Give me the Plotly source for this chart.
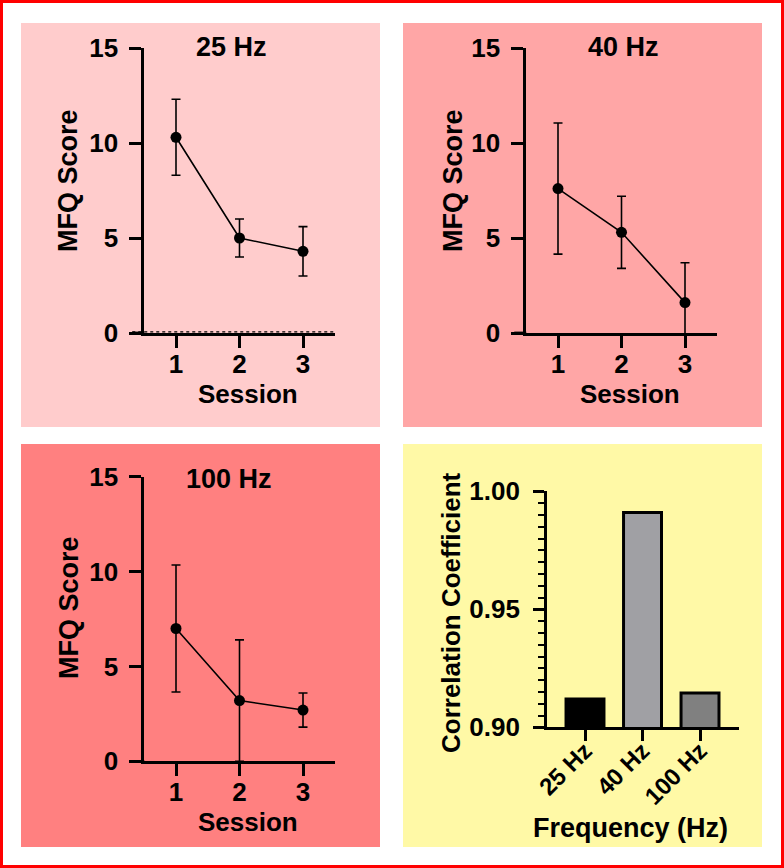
import plotly.graph_objects as go

# ---------------- data ----------------
sessions = [1, 2, 3]
session_ticks = ["1", "2", "3"]

mfq_25 = [10.3, 5.0, 4.3]
err_25 = [2.0, 1.0, 1.3]

mfq_40 = [7.6, 5.3, 1.6]
err_40 = [3.45, 1.9, 2.1]

mfq_100 = [7.0, 3.2, 2.7]
err_100 = [3.35, 3.2, 0.9]

freq_labels = ["25 Hz", "40 Hz", "100 Hz"]
freq_pos = [0, 1, 2]
corr_values = [0.912, 0.991, 0.9145]
bar_colors = ["#000000", "#A0A0A4", "#808080"]

mfq_ticks = [0, 5, 10, 15]
corr_ticks = [0.90, 0.95, 1.00]

# ---------------- figure ----------------
W, H = 784, 868
FONT = "Liberation Sans, Arial, sans-serif"
FS = 26

def px_x(p):
    return p / W

def px_y(p):
    return 1 - p / H

fig = go.Figure()

panels = [
    ("x", "y", mfq_25, err_25),
    ("x2", "y2", mfq_40, err_40),
    ("x3", "y3", mfq_100, err_100),
]

for xa, ya, vals, errs in panels:
    fig.add_trace(go.Scatter(
        x=sessions, y=vals, xaxis=xa, yaxis=ya,
        mode="lines+markers",
        line=dict(color="black", width=1.6),
        marker=dict(color="black", size=11),
        error_y=dict(type="data", array=errs, visible=True,
                     color="black", thickness=1.6, width=4.5),
        showlegend=False,
    ))

fig.add_trace(go.Bar(
    x=freq_pos, y=corr_values, xaxis="x4", yaxis="y4",
    width=0.66,
    marker=dict(color=bar_colors, line=dict(color="black", width=3)),
    showlegend=False,
))

line_axis = dict(showline=True, linecolor="black", linewidth=2.8,
                 ticks="outside", ticklen=12, tickwidth=2.8, tickcolor="black",
                 showgrid=False, zeroline=False, automargin=False,
                 tickfont=dict(family=FONT, size=FS, color="black", weight="bold"))

d1x = [px_x(144.25), px_x(334.75)]
d2x = [px_x(526.25), px_x(716.75)]
dTop = [px_y(333), px_y(48)]
dBot = [px_y(761.3), px_y(476.7)]
d4x = [px_x(547), px_x(739)]
d4y = [px_y(727.3), px_y(491.3)]

for i, (dx, dy) in enumerate([(d1x, dTop), (d2x, dTop), (d1x, dBot)], start=1):
    sfx = "" if i == 1 else str(i)
    fig.layout["xaxis" + sfx] = dict(
        line_axis, domain=dx, range=[0.5, 3.5], anchor="y" + sfx,
        tickvals=sessions, ticktext=session_ticks, ticklabelstandoff=-6)
    fig.layout["yaxis" + sfx] = dict(
        line_axis, domain=dy, range=[0, 15], anchor="x" + sfx,
        tickvals=mfq_ticks, ticklabelstandoff=6)

fig.layout["xaxis4"] = dict(
    line_axis, domain=d4x, range=[-0.661, 2.678], anchor="y4",
    tickvals=freq_pos, ticktext=freq_labels, tickangle=-45,
    ticklen=11, ticklabelstandoff=-14,
    tickfont=dict(family=FONT, size=24, color="black", weight="bold"))
fig.layout["yaxis4"] = dict(
    line_axis, domain=d4y, range=[0.90, 1.00], anchor="x4",
    tickvals=corr_ticks, tickformat=".2f", ticklen=11, ticklabelstandoff=8,
    minor=dict(dtick=0.005, ticks="outside", ticklen=6, tickwidth=2, tickcolor="black"))

shapes = []
for (x0, y0, x1, y1, col) in [
    (21, 23, 380, 427, "#FFCCCC"),
    (403, 23, 762, 427, "#FFA6A6"),
    (21, 444, 380, 847, "#FF8080"),
    (403, 444, 762, 847, "#FFF9A6"),
]:
    shapes.append(dict(type="rect", xref="paper", yref="paper",
                       x0=px_x(x0), x1=px_x(x1), y0=px_y(y1), y1=px_y(y0),
                       fillcolor=col, line=dict(width=0), layer="below"))
for xr, yr, ext, y0v in [("x", "y", 12 / 190.5, 0), ("x2", "y2", 12 / 190.5, 0),
                          ("x3", "y3", 12 / 190.5, 0), ("x4", "y4", 11 / 192, 0.90)]:
    shapes.append(dict(type="line", xref=xr + " domain", yref=yr,
                       x0=-ext, x1=0, y0=y0v, y1=y0v,
                       line=dict(color="black", width=2.8)))
# dotted baseline on the 25 Hz panel (as in the original)
shapes.append(dict(type="line", xref="x domain", yref="y",
                   x0=-12 / 190.5, x1=1, y0=0.06, y1=0.06,
                   line=dict(color="black", width=1.4, dash="3px,3px")))
shapes.append(dict(type="rect", xref="paper", yref="paper",
                   x0=px_x(1.5), x1=px_x(W - 1.5), y0=px_y(H - 1.5), y1=px_y(1.5),
                   line=dict(color="#FF0000", width=3), fillcolor="rgba(0,0,0,0)"))

annots = []
def ann(text, x, y, angle=0, size=FS):
    annots.append(dict(text=text, x=px_x(x), y=px_y(y), xref="paper", yref="paper",
                       xanchor="center", yanchor="middle", showarrow=False,
                       textangle=angle,
                       font=dict(family=FONT, size=size, color="black", weight="bold")))

ann("25 Hz", 231, 47, 0, 27)
ann("40 Hz", 623, 47, 0, 27)
ann("100 Hz", 229, 479, 0, 27)
ann("MFQ Score", 68, 181, -90, 27)
ann("MFQ Score", 453, 180, -90, 27)
ann("MFQ Score", 69, 608, -90, 27)
ann("Session", 248, 394, 0, 26)
ann("Session", 630, 394, 0, 26)
ann("Session", 248, 822, 0, 26)
ann("Correlation Coefficient", 451, 613, -90, 26)
ann("Frequency (Hz)", 630, 828, 0, 27)

fig.update_layout(
    template="none",
    width=W, height=H, autosize=False,
    margin=dict(l=0, r=0, t=0, b=0, pad=0, autoexpand=False),
    paper_bgcolor="white", plot_bgcolor="rgba(0,0,0,0)",
    shapes=shapes, annotations=annots,
    font=dict(family=FONT, color="black"),
)

fig.write_html("out.html",
               config={"displayModeBar": False},
               post_script="document.body.style.margin='0';document.body.style.padding='0';"
                           "document.documentElement.style.overflow='hidden';")
